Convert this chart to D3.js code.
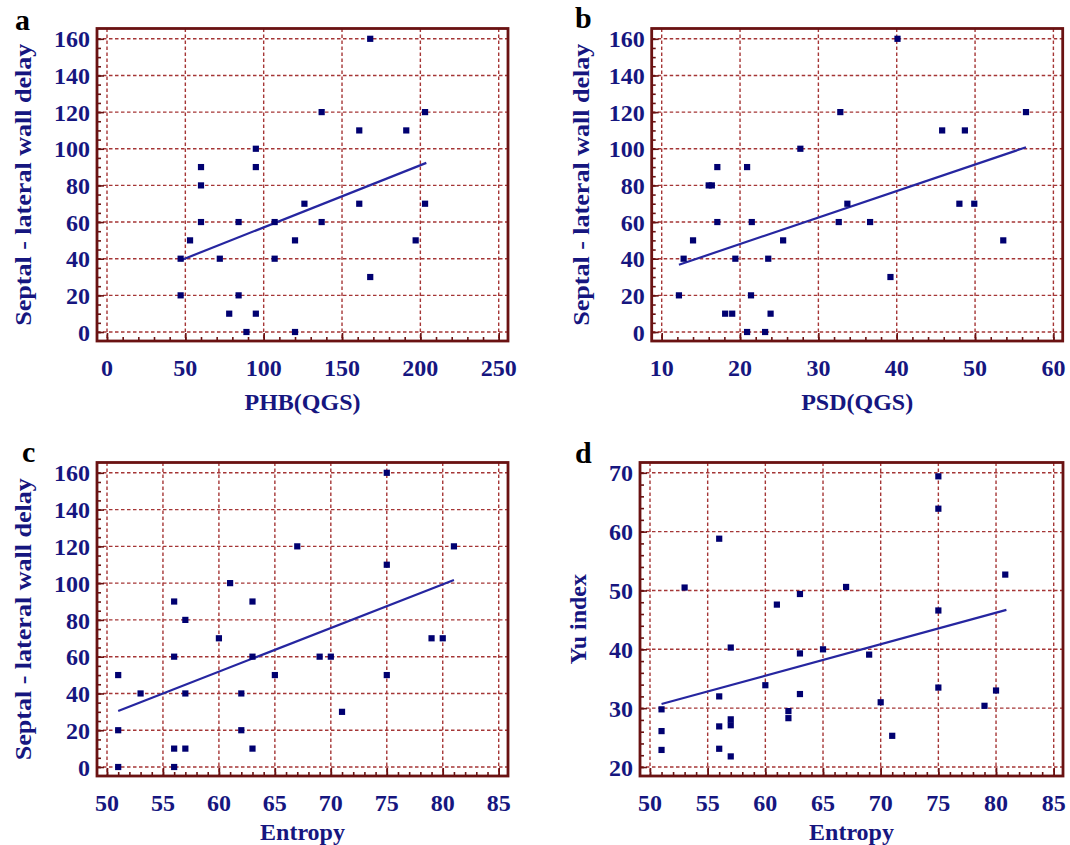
<!DOCTYPE html>
<html>
<head>
<meta charset="utf-8">
<script src="https://cdn.jsdelivr.net/npm/d3@7"></script>
<style>
  body { margin: 0; background: #fff; }
  svg text { font-family: "Liberation Serif", "Times New Roman", serif; font-weight: bold; }
</style>
</head>
<body>
<div id="chart"></div>
<script>
const chartWidth = 1070;
const chartHeight = 845;

// panel a: PHB(QGS) vs septal - lateral wall delay
const phbValues = [168, 137, 203, 161, 191, 95, 60, 95, 60, 126, 161, 203, 60, 84, 107, 137, 53, 120, 197, 47, 72, 107, 168, 47, 84, 78, 95, 89, 120];
const phbDelay = [160, 120, 120, 110, 110, 100, 90, 90, 80, 70, 70, 70, 60, 60, 60, 60, 50, 50, 50, 40, 40, 40, 30, 20, 20, 10, 10, 0, 0];
const phbFitX = [47.2, 203.8];
const phbFitY = [39.2, 92.3];

// panel b: PSD(QGS) vs delay
const psdValues = [40.1, 32.8, 56.5, 45.8, 48.7, 27.7, 17.1, 20.9, 16.0, 16.4, 33.7, 48.0, 49.9, 17.1, 21.5, 32.6, 36.6, 14.0, 25.5, 53.6, 12.8, 19.4, 23.6, 39.2, 12.2, 21.4, 18.1, 19.0, 23.9, 20.9, 23.2];
const psdDelay = [160, 120, 120, 110, 110, 100, 90, 90, 80, 80, 70, 70, 70, 60, 60, 60, 60, 50, 50, 50, 40, 40, 40, 30, 20, 20, 10, 10, 10, 0, 0];
const psdFitX = [12.2, 56.5];
const psdFitY = [36.7, 100.8];

// panel c: entropy vs delay
const entropyDelayX = [75, 67, 81, 75, 61, 56, 63, 57, 60, 79, 80, 56, 63, 69, 70, 51, 65, 75, 53, 57, 62, 71, 51, 62, 56, 57, 63, 51, 56];
const entropyDelayY = [160, 120, 120, 110, 100, 90, 90, 80, 70, 70, 70, 60, 60, 60, 60, 50, 50, 50, 40, 40, 40, 30, 20, 20, 10, 10, 10, 0, 0];
const entropyDelayFitX = [51, 81];
const entropyDelayFitY = [30.5, 101.7];

// panel d: entropy vs Yu index
const entropyYuX = [75, 75, 56, 80.8, 53, 67, 63, 61, 75, 57, 65, 63, 69, 60, 75, 80, 56, 63, 70, 79, 51, 62, 62, 57, 57, 56, 51, 71, 51, 56, 57];
const entropyYuY = [69.4, 63.9, 58.8, 52.7, 50.5, 50.6, 49.4, 47.6, 46.6, 40.3, 40.0, 39.3, 39.1, 33.9, 33.5, 33.0, 32.0, 32.4, 31.0, 30.4, 29.8, 29.5, 28.3, 28.1, 27.1, 26.9, 26.1, 25.3, 22.9, 23.1, 21.8];
const entropyYuFitX = [51, 80.9];
const entropyYuFitY = [30.7, 46.7];

// tick labels
const phbTicks = [0, 50, 100, 150, 200, 250];
const psdTicks = [10, 20, 30, 40, 50, 60];
const entropyTicks = [50, 55, 60, 65, 70, 75, 80, 85];
const delayTicks = [0, 20, 40, 60, 80, 100, 120, 140, 160];
const yuTicks = [20, 30, 40, 50, 60, 70];

const delayTitle = "Septal - lateral wall delay";

const frameColor = "#6a1212";
const gridColor = "#a53636";
const labelColor = "#16167f";
const dotColor = "#000070";
const fitColor = "#2626a0";

const pad = { left: 10, right: 9.3, top: 10.3, bottom: 9 };

const panels = [
  {
    letter: "a", letterPos: [15, 30],
    frame: [97, 28.5, 508, 341],
    xs: phbValues, ys: phbDelay, fitX: phbFitX, fitY: phbFitY,
    xTicks: phbTicks, yTicks: delayTicks, xMinor: 10, yMinor: 5,
    xTitle: "PHB(QGS)", yTitle: delayTitle, yTitleX: 31, xTitleOffset: 69, yTitleLength: 282,
  },
  {
    letter: "b", letterPos: [575, 28],
    frame: [651.7, 28.5, 1062.7, 341],
    xs: psdValues, ys: psdDelay, fitX: psdFitX, fitY: psdFitY,
    xTicks: psdTicks, yTicks: delayTicks, xMinor: 2, yMinor: 5,
    xTitle: "PSD(QGS)", yTitle: delayTitle, yTitleX: 589, xTitleOffset: 69, yTitleLength: 282,
  },
  {
    letter: "c", letterPos: [22, 462],
    frame: [97, 462.5, 508, 776],
    xs: entropyDelayX, ys: entropyDelayY, fitX: entropyDelayFitX, fitY: entropyDelayFitY,
    xTicks: entropyTicks, yTicks: delayTicks, xMinor: 1, yMinor: 5,
    xTitle: "Entropy", yTitle: delayTitle, yTitleX: 31, xTitleOffset: 64, yTitleLength: 282,
  },
  {
    letter: "d", letterPos: [575, 463],
    frame: [640, 462.5, 1063, 776],
    xs: entropyYuX, ys: entropyYuY, fitX: entropyYuFitX, fitY: entropyYuFitY,
    xTicks: entropyTicks, yTicks: yuTicks, xMinor: 1, yMinor: 2,
    xTitle: "Entropy", yTitle: "Yu index", yTitleX: 586, xTitleOffset: 64, yTitleLength: null,
  },
];

const svg = d3
  .select("#chart")
  .append("svg")
  .attr("width", chartWidth)
  .attr("height", chartHeight)
  .attr("viewBox", `0 0 ${chartWidth} ${chartHeight}`);

panels.forEach(drawPanel);

function drawPanel(p) {
  const [x0, y0, x1, y1] = p.frame;
  const xExtent = d3.extent(p.xTicks);
  const yExtent = d3.extent(p.yTicks);

  const x = d3
    .scaleLinear()
    .domain(xExtent)
    .range([x0 + pad.left, x1 - pad.right]);

  const y = d3
    .scaleLinear()
    .domain(yExtent)
    .range([y1 - pad.bottom, y0 + pad.top]);

  const g = svg.append("g");

  // dashed grid at every labelled tick
  g.selectAll(".v-grid")
    .data(p.xTicks)
    .join("line")
    .attr("x1", (d) => x(d))
    .attr("x2", (d) => x(d))
    .attr("y1", y0)
    .attr("y2", y1)
    .attr("stroke", gridColor)
    .attr("stroke-width", 1.4)
    .attr("stroke-dasharray", "3.5,2.5");

  g.selectAll(".h-grid")
    .data(p.yTicks)
    .join("line")
    .attr("x1", x0)
    .attr("x2", x1)
    .attr("y1", (d) => y(d))
    .attr("y2", (d) => y(d))
    .attr("stroke", gridColor)
    .attr("stroke-width", 1.4)
    .attr("stroke-dasharray", "3.5,2.5");

  // inward ticks on left and bottom edges
  const xMinorTicks = d3.range(xExtent[0], xExtent[1] + 1e-9, p.xMinor);
  const yMinorTicks = d3.range(yExtent[0], yExtent[1] + 1e-9, p.yMinor);

  const tickAxes = [
    g.append("g").attr("transform", `translate(0,${y1})`)
      .call(d3.axisBottom(x).tickValues(xMinorTicks).tickSize(-4).tickFormat("")),
    g.append("g").attr("transform", `translate(0,${y1})`)
      .call(d3.axisBottom(x).tickValues(p.xTicks).tickSize(-8).tickFormat("")),
    g.append("g").attr("transform", `translate(${x0},0)`)
      .call(d3.axisRight(y).tickValues(yMinorTicks).tickSize(4).tickFormat("")),
    g.append("g").attr("transform", `translate(${x0},0)`)
      .call(d3.axisRight(y).tickValues(p.yTicks).tickSize(7).tickFormat("")),
  ];
  tickAxes.forEach((axis) => {
    axis.select(".domain").remove();
    axis.selectAll("line").attr("stroke", frameColor).attr("stroke-width", 1.6);
  });

  // frame
  g.append("rect")
    .attr("x", x0)
    .attr("y", y0)
    .attr("width", x1 - x0)
    .attr("height", y1 - y0)
    .attr("fill", "none")
    .attr("stroke", frameColor)
    .attr("stroke-width", 2.8);

  // tick labels
  g.selectAll(".x-label")
    .data(p.xTicks)
    .join("text")
    .attr("x", (d) => x(d))
    .attr("y", y1 + 35)
    .attr("text-anchor", "middle")
    .attr("font-size", 24)
    .attr("fill", labelColor)
    .text((d) => d);

  g.selectAll(".y-label")
    .data(p.yTicks)
    .join("text")
    .attr("x", x0 - 7)
    .attr("y", (d) => y(d))
    .attr("dy", "0.36em")
    .attr("text-anchor", "end")
    .attr("font-size", 24)
    .attr("fill", labelColor)
    .text((d) => d);

  // axis titles
  g.append("text")
    .attr("x", (x0 + x1) / 2)
    .attr("y", y1 + p.xTitleOffset)
    .attr("text-anchor", "middle")
    .attr("font-size", 24)
    .attr("fill", labelColor)
    .text(p.xTitle);

  const yTitle = g
    .append("text")
    .attr("transform", `translate(${p.yTitleX},${(y0 + y1) / 2}) rotate(-90)`)
    .attr("text-anchor", "middle")
    .attr("font-size", 24)
    .attr("fill", labelColor)
    .text(p.yTitle);
  if (p.yTitleLength) {
    yTitle.attr("textLength", p.yTitleLength).attr("lengthAdjust", "spacingAndGlyphs");
  }

  // panel letter
  svg.append("text")
    .attr("x", p.letterPos[0])
    .attr("y", p.letterPos[1])
    .attr("font-size", 30)
    .attr("fill", "#000")
    .text(p.letter);

  // regression line
  g.append("line")
    .attr("x1", x(p.fitX[0]))
    .attr("y1", y(p.fitY[0]))
    .attr("x2", x(p.fitX[1]))
    .attr("y2", y(p.fitY[1]))
    .attr("stroke", fitColor)
    .attr("stroke-width", 2.2);

  // points
  const points = p.xs.map((v, i) => ({ x: v, y: p.ys[i] }));
  const size = 6.2;
  g.selectAll(".dot")
    .data(points)
    .join("rect")
    .attr("x", (d) => x(d.x) - size / 2)
    .attr("y", (d) => y(d.y) - size / 2)
    .attr("width", size)
    .attr("height", size)
    .attr("fill", dotColor);
}
</script>
</body>
</html>
